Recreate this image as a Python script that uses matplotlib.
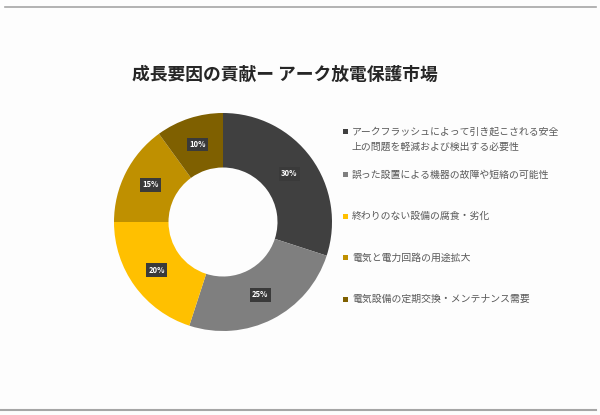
import matplotlib.pyplot as plt
from matplotlib.patches import Rectangle
from matplotlib.lines import Line2D

plt.rcParams['font.family'] = ['Noto Sans CJK JP', 'DejaVu Sans']

title = '成長要因の貢献ー アーク放電保護市場'
labels = ['アークフラッシュによって引き起こされる安全\n上の問題を軽減および検出する必要性',
          '誤った設置による機器の故障や短絡の可能性',
          '終わりのない設備の腐食・劣化',
          '電気と電力回路の用途拡大',
          '電気設備の定期交換・メンテナンス需要']
shares = [30, 25, 20, 15, 10]
colors = ['#404040', '#7f7f7f', '#ffc000', '#bf9000', '#7f6000']

W, H = 600, 415
fig = plt.figure(figsize=(6, 4.15), dpi=100)
fig.patch.set_facecolor('#fdfdfd')

# frame lines top and bottom
fig.add_artist(Line2D([5 / W, 596 / W], [1 - 7.5 / H] * 2, color='#a6a6a6', lw=1.2))
fig.add_artist(Line2D([0, 596 / W], [1 - 409.5 / H] * 2, color='#a6a6a6', lw=1.5))

fig.text(285 / W, 1 - 75 / H, title, ha='center', va='center',
         fontsize=12.8, fontweight='bold', color='#262626')

# donut
cx, cy, r = 223, 222, 109
ax = fig.add_axes([(cx - r) / W, (H - cy - r) / H, 2 * r / W, 2 * r / H])
wedges, texts = ax.pie(shares, colors=colors, startangle=90, counterclock=False,
                       radius=1, wedgeprops=dict(width=0.5, edgecolor='none'),
                       labels=['%d%%' % s for s in shares], labeldistance=0.75)
for t in texts:
    t.set_ha('center')
    t.set_va('center')
    t.set_color('white')
    t.set_fontsize(5.5)
    t.set_fontweight('bold')
    t.set_bbox(dict(facecolor='#3a3a3a', edgecolor='none', pad=1.6))
ax.set_xlim(-1, 1)
ax.set_ylim(-1, 1)
ax.axis('off')

# legend
y0, step = 132, 41.5
for i, (lab, c) in enumerate(zip(labels, colors)):
    y = y0 + i * step
    if i > 0:
        y += 1.5
    fig.add_artist(Rectangle((343 / W, 1 - (y + 2.5) / H), 5 / W, 5 / H,
                             facecolor=c, edgecolor='none', transform=fig.transFigure))
    fig.text(352 / W, 1 - (y - 5.5) / H, lab, ha='left', va='top',
             fontsize=7.1, color='#595959', linespacing=1.65)

fig.savefig('out.png', dpi=100, facecolor=fig.get_facecolor())
